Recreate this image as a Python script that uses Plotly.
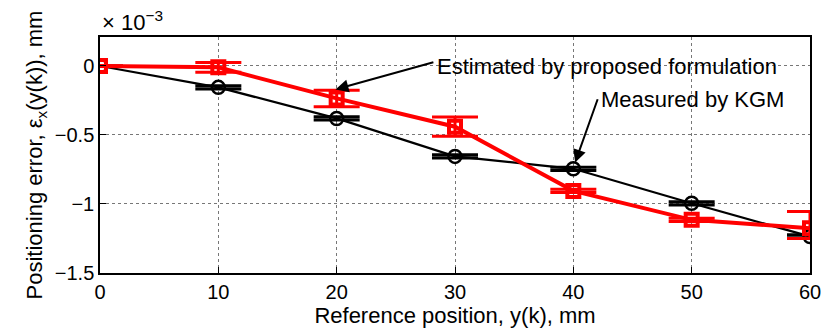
import plotly.graph_objects as go

# Data (values in units of 1e-3 mm)
positions = [0, 10, 20, 30, 40, 50, 60]
measured = [0.0, -0.155, -0.38, -0.655, -0.745, -0.995, -1.235]
measured_err = [0.0, 0.012, 0.012, 0.012, 0.012, 0.012, 0.012]
estimated = [0.0, -0.01, -0.235, -0.44, -0.905, -1.115, -1.175]
estimated_err_plus = [0.0, 0.035, 0.06, 0.07, 0.012, 0.012, 0.12]
estimated_err_minus = [0.0, 0.035, 0.06, 0.07, 0.012, 0.012, 0.075]

x_ticks = [0, 10, 20, 30, 40, 50, 60]
y_ticks = [-1.5, -1.0, -0.5, 0.0]
y_tick_labels = ["\u22121.5", "\u22121", "\u22120.5", "0"]

FONT = "Liberation Sans, Arial, sans-serif"

fig = go.Figure()

fig.add_trace(go.Scatter(
    x=positions, y=measured, mode="lines+markers",
    line=dict(color="black", width=2.2),
    marker=dict(symbol="circle-open", size=13, color="black", line=dict(width=2.5)),
    error_y=dict(type="data", array=measured_err, visible=True,
                 color="black", thickness=3, width=23),
    showlegend=False,
))

fig.add_trace(go.Scatter(
    x=positions, y=estimated, mode="lines+markers",
    line=dict(color="#ff0000", width=4),
    marker=dict(symbol="square-open", size=12, color="#ff0000", line=dict(width=4)),
    error_y=dict(type="data", array=estimated_err_plus, arrayminus=estimated_err_minus,
                 symmetric=False, visible=True, color="#ff0000", thickness=3, width=23),
    showlegend=False,
))

axis_common = dict(
    showline=True, linecolor="black", linewidth=1.5, mirror=True,
    ticks="inside", ticklen=6, tickcolor="black",
    showgrid=True, gridcolor="#777777", griddash="dot", gridwidth=1,
    zeroline=False, automargin=False,
    tickfont=dict(family=FONT, size=20, color="black"),
)

fig.update_xaxes(
    range=[0, 60], tickvals=x_ticks,
    title=dict(text="Reference position, y(k), mm", font=dict(family=FONT, size=22, color="black"), standoff=2),
    **axis_common,
)
fig.update_yaxes(
    range=[-1.5, 0.21], tickvals=y_ticks, ticktext=y_tick_labels,
    title=dict(text="Positioning error, \u03b5<sub>x</sub>(y(k)), mm", font=dict(family=FONT, size=22, color="black"), standoff=6),
    **axis_common,
)

# exponent label
fig.add_annotation(
    xref="paper", yref="paper", x=0.0, y=1.0, xanchor="left", yanchor="bottom",
    text="\u00d7 10<sup>\u22123</sup>", showarrow=False,
    font=dict(family=FONT, size=22, color="black"), yshift=0,
)

# arrows
fig.add_annotation(
    x=19.9, y=-0.17, ax=28.3, ay=0.03, xref="x", yref="y", axref="x", ayref="y",
    text="", showarrow=True, arrowhead=2, arrowsize=1.3, arrowwidth=2, arrowcolor="black",
)
fig.add_annotation(
    x=28.3, y=-0.005, xref="x", yref="y", xanchor="left", yanchor="middle",
    text="Estimated by proposed formulation", showarrow=False,
    font=dict(family=FONT, size=22, color="black"),
)
fig.add_annotation(
    x=40.15, y=-0.70, ax=42.1, ay=-0.23, xref="x", yref="y", axref="x", ayref="y",
    text="", showarrow=True, arrowhead=2, arrowsize=1.3, arrowwidth=2, arrowcolor="black",
)
fig.add_annotation(
    x=42.2, y=-0.245, xref="x", yref="y", xanchor="left", yanchor="middle",
    text="Measured by KGM", showarrow=False,
    font=dict(family=FONT, size=22, color="black"),
)

fig.update_layout(
    width=827, height=334,
    margin=dict(l=100, r=17, t=37, b=61, autoexpand=False),
    paper_bgcolor="white", plot_bgcolor="white",
    font=dict(family=FONT, size=20, color="black"),
)

fig.write_html("out.html", config={"displayModeBar": False},
               post_script="document.body.style.margin='0';document.body.style.overflow='hidden';")
